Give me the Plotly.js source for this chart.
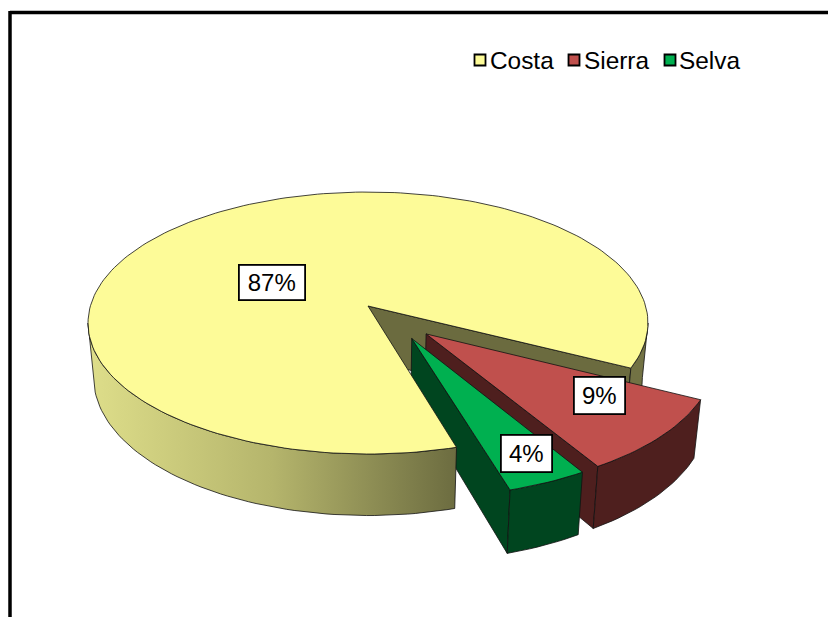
<!DOCTYPE html>
<html>
<head>
<meta charset="utf-8">
<script src="https://cdn.plot.ly/plotly-3.0.1.min.js"></script>
<style>html,body{margin:0;padding:0;background:#fff}#chart{width:828px;height:617px}</style>
</head>
<body>
<div id="chart"></div>
<script>
// Regions and their shares
const categories = ["Costa", "Sierra", "Selva"];
const shares = [87, 9, 4];
const topColors = ["#FDFB98", "#C0504D", "#00B050"];
const sideColors = ["#6B6B3F", "#4E1F1E", "#00451F"];
const explode = [0, 0.293, 0.288];
const explodeDir = [0, 46, 58];

// Projection of the disc: a pinhole view of a flat cylinder
const view = {cx: 368, cy: 306, R: 277.6, h: 128.8, k: 0.13, depth: 53.5, shrink: 0.98};
const firstAngle = 73.8;
const rad = d => d * Math.PI / 180;

function project(X, Y, down) {
  const s = 1 / (1 - view.k * Y);
  let x = view.cx + view.R * X * s;
  let y = view.cy + view.h * Y * s;
  if (down) {
    x = view.cx + (x - view.cx) * view.shrink;
    y += view.depth * s;
  }
  return [x, y];
}

function arcPoints(a0, a1, ox, oy, down) {
  const pts = [];
  const n = Math.max(2, Math.ceil(Math.abs(a1 - a0) / 1.5));
  for (let i = 0; i <= n; i++) {
    const a = rad(a0 + (a1 - a0) * i / n);
    pts.push(project(ox + Math.cos(a), oy + Math.sin(a), down));
  }
  return pts;
}

function poly(pts, fill, extra) {
  return Object.assign({
    type: "scatter", mode: "lines", fill: "toself", fillcolor: fill,
    x: pts.map(p => p[0]).concat(pts[0][0]),
    y: pts.map(p => p[1]).concat(pts[0][1]),
    line: {color: "#111", width: 0.8}, hoverinfo: "skip", showlegend: false
  }, extra || {});
}

const total = shares.reduce((a, b) => a + b, 0);
let cursor = firstAngle;
const slices = shares.map((v, i) => {
  const a0 = cursor, a1 = cursor + v / total * 360;
  cursor = a1;
  const dir = rad(explodeDir[i]);
  return {a0, a1, ox: explode[i] * Math.cos(dir), oy: explode[i] * Math.sin(dir)};
});

// Painter's order: the back of the large slice, the pulled-out slices, then its front
const behind = [], pulled = [], front = [];
slices.forEach((sl, i) => {
  const {a0, a1, ox, oy} = sl;
  const apexTop = project(ox, oy, false), apexLow = project(ox, oy, true);
  if (i === 0) {
    const end = a1 % 360;
    const p = arcPoints(end, end, ox, oy, false)[0];
    const q = arcPoints(end, end, ox, oy, true)[0];
    behind.push(poly([apexTop, p, q, apexLow], sideColors[0]));
    const sil = Math.asin(view.k) * 180 / Math.PI;
    behind.push(poly(arcPoints(sil, end, ox, oy, false).concat(arcPoints(end, sil, ox, oy, true)), "#727244"));
    front.push(poly(arcPoints(a0, 180 - sil, ox, oy, false).concat(arcPoints(180 - sil, a0, ox, oy, true)), "#888", {
      fillgradient: {type: "horizontal", colorscale: [[0, "#DEDE8A"], [0.5, "#B5B56C"], [1, "#6C6C40"]]}
    }));
    front.push(poly([apexTop].concat(arcPoints(a0, a1, ox, oy, false)), topColors[0]));
  } else {
    const p = arcPoints(a1, a1, ox, oy, false)[0];
    const q = arcPoints(a1, a1, ox, oy, true)[0];
    pulled.push(poly([apexTop, p, q, apexLow], sideColors[i]));
    pulled.push(poly(arcPoints(a0, a1, ox, oy, false).concat(arcPoints(a1, a0, ox, oy, true)), sideColors[i]));
    pulled.push(poly([apexTop].concat(arcPoints(a0, a1, ox, oy, false)), topColors[i]));
  }
});
const traces = behind.concat(pulled, front);

// Key above the disc
const keyX = [480, 574, 670];
const keyY = [60, 60, 60];
const keyTextX = [490, 584, 679];
traces.push({
  type: "scatter", mode: "markers", x: keyX, y: keyY,
  marker: {symbol: "square", size: 11, color: topColors, line: {color: "#000", width: 1.8}},
  hoverinfo: "skip", showlegend: false
});

const labelX = [272, 599, 526.5];
const labelY = [282, 395, 453.5];
const labelW = [56, 41, 41];
const labelH = [25, 27, 27];
const annotations = shares.map((v, i) => ({
  x: labelX[i], y: labelY[i], text: v + "%", showarrow: false, width: labelW[i], height: labelH[i],
  font: {family: "Liberation Sans, Arial, sans-serif", size: 24, color: "#000"},
  bgcolor: "#fff", bordercolor: "#000", borderwidth: 1.8, borderpad: 4
})).concat(categories.map((c, i) => ({
  x: keyTextX[i], y: keyY[i], text: c, showarrow: false, xanchor: "left", yanchor: "middle",
  font: {family: "Liberation Sans, Arial, sans-serif", size: 24.4, color: "#000"}, borderpad: 0, borderwidth: 0
})));

const layout = {
  width: 828, height: 617, margin: {l: 0, r: 0, t: 0, b: 0},
  paper_bgcolor: "#fff", plot_bgcolor: "#fff", showlegend: false,
  xaxis: {range: [0, 828], visible: false, fixedrange: true},
  yaxis: {range: [617, 0], visible: false, fixedrange: true},
  annotations,
  shapes: [
    {type: "line", xref: "x", yref: "y", x0: 10, y0: 12.5, x1: 828, y1: 12.5, line: {color: "#000", width: 3.5}},
    {type: "line", xref: "x", yref: "y", x0: 10, y0: 11, x1: 10, y1: 617, line: {color: "#000", width: 3.5}}
  ]
};

Plotly.newPlot("chart", traces, layout, {displayModeBar: false, staticPlot: true});
</script>
</body>
</html>
